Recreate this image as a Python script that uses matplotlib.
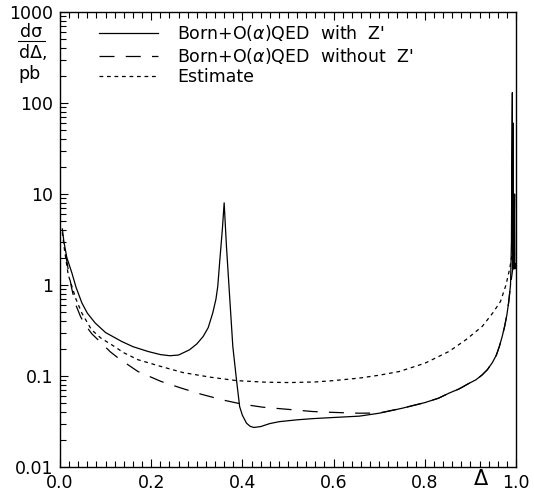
import matplotlib
matplotlib.use("Agg")
import matplotlib.pyplot as plt
from matplotlib.ticker import FixedLocator, NullFormatter, MultipleLocator
from matplotlib.lines import Line2D

# ---- data ----
x_with = [0.009, 0.015, 0.026, 0.035, 0.048, 0.060, 0.077, 0.100, 0.135, 0.160,
          0.193, 0.220, 0.241, 0.260, 0.284, 0.300, 0.314, 0.325, 0.335, 0.342,
          0.346, 0.350, 0.356, 0.360, 0.365, 0.372, 0.379, 0.387, 0.394, 0.400,
          0.409, 0.417, 0.425, 0.440, 0.460, 0.481, 0.520, 0.554, 0.600, 0.656,
          0.700, 0.751, 0.800, 0.830, 0.853, 0.875, 0.895, 0.912, 0.925, 0.937,
          0.948, 0.957, 0.964, 0.970, 0.975, 0.980, 0.984, 0.988, 0.990, 0.991,
          0.992, 0.9925, 0.993, 0.994, 0.9945, 0.995, 0.997, 0.9975, 0.998, 0.999]
y_with = [2.91, 2.0, 1.36, 0.95, 0.635, 0.49, 0.383, 0.30, 0.240, 0.21,
          0.186, 0.172, 0.167, 0.170, 0.194, 0.225, 0.272, 0.34, 0.493, 0.70,
          0.97, 1.75, 4.07, 8.0, 2.67, 0.75, 0.211, 0.091, 0.046, 0.037,
          0.0303, 0.028, 0.0272, 0.0278, 0.030, 0.0315, 0.033, 0.0340, 0.0350, 0.0362,
          0.039, 0.0443, 0.051, 0.057, 0.0648, 0.072, 0.082, 0.0908, 0.102, 0.117,
          0.140, 0.170, 0.215, 0.275, 0.35, 0.47, 0.65, 1.0, 3.0, 30.0,
          130.0, 1.5, 1.8, 60.0, 1.5, 1.6, 10.0, 1.5, 1.6, 1.7]

x_without = [0.005, 0.010, 0.018, 0.025, 0.033, 0.045, 0.055, 0.070, 0.091, 0.110,
             0.128, 0.150, 0.171, 0.200, 0.222, 0.266, 0.310, 0.357, 0.400, 0.445,
             0.500, 0.554, 0.600, 0.656, 0.700, 0.751, 0.800, 0.830, 0.853, 0.875,
             0.895, 0.912, 0.925, 0.937, 0.948, 0.957, 0.964, 0.970, 0.975, 0.980,
             0.984, 0.988, 0.992, 0.995, 0.999]
y_without = [4.2, 2.6, 1.48, 0.95, 0.635, 0.45, 0.366, 0.29, 0.230, 0.185,
             0.157, 0.132, 0.112, 0.097, 0.087, 0.0736, 0.063, 0.0545, 0.049, 0.0454,
             0.043, 0.0407, 0.0398, 0.039, 0.0392, 0.0443, 0.051, 0.057, 0.0648, 0.072,
             0.082, 0.0908, 0.102, 0.117, 0.140, 0.170, 0.215, 0.275, 0.35, 0.47,
             0.65, 1.0, 1.4, 1.8, 2.2]

x_est = [0.005, 0.010, 0.018, 0.026, 0.035, 0.048, 0.069, 0.090, 0.113, 0.140,
         0.171, 0.222, 0.270, 0.330, 0.387, 0.450, 0.503, 0.560, 0.600, 0.656,
         0.700, 0.744, 0.800, 0.853, 0.890, 0.926, 0.950, 0.966, 0.978, 0.986,
         0.992, 0.996]
y_est = [3.8, 2.4, 1.3, 0.97, 0.70, 0.49, 0.323, 0.26, 0.221, 0.18,
         0.151, 0.127, 0.109, 0.097, 0.089, 0.0855, 0.0847, 0.086, 0.089, 0.0948,
         0.102, 0.112, 0.138, 0.186, 0.25, 0.351, 0.50, 0.66, 1.0, 1.5,
         2.25, 2.6]

labels = ["Born+O($\\alpha$)QED  with  Z'",
          "Born+O($\\alpha$)QED  without  Z'",
          "Estimate"]
x_ticks = [0.0, 0.2, 0.4, 0.6, 0.8, 1.0]
x_ticklabels = ["0.0", "0.2", "0.4", "0.6", "0.8", "1.0"]
y_ticks = [0.01, 0.1, 1, 10, 100, 1000]
y_ticklabels = ["0.01", "0.1", "1", "10", "100", "1000"]

# ---- figure ----
plt.rcParams['font.family'] = ['DejaVu Sans']
plt.rcParams['mathtext.fontset'] = 'dejavusans'
W, H = 534, 497
fig = plt.figure(figsize=(W / 100, H / 100), dpi=100)
L, R, T, B = 60, 516, 12, 467
ax = fig.add_axes([L / W, 1 - B / H, (R - L) / W, (B - T) / H])

lw = 0.9
fs = 12.5
ax.plot(x_with, y_with, color='black', lw=lw, ls='-', label=labels[0])
ax.plot(x_without, y_without, color='black', lw=lw, ls=(0, (12, 9)), label=labels[1])
ax.plot(x_est, y_est, color='black', lw=lw, ls=(0, (3, 3)), label=labels[2])

ax.set_yscale('log')
ax.set_xlim(0, 1)
ax.set_ylim(0.01, 1000)

ax.xaxis.set_major_locator(FixedLocator(x_ticks))
ax.set_xticklabels(x_ticklabels)
ax.xaxis.set_minor_locator(MultipleLocator(0.02))
ax.yaxis.set_major_locator(FixedLocator(y_ticks))
ax.set_yticklabels(y_ticklabels)
minors = [m * 10.0 ** e for e in range(-2, 3) for m in range(2, 10)]
ax.yaxis.set_minor_locator(FixedLocator(minors))
ax.yaxis.set_minor_formatter(NullFormatter())

ax.tick_params(which='both', direction='in', top=True, right=False,
               labelsize=fs, width=0.8, pad=5)
ax.tick_params(which='major', length=6)
ax.tick_params(which='minor', length=4)
for s in ax.spines.values():
    s.set_linewidth(1.0)

leg = ax.legend(loc='upper left', bbox_to_anchor=(0.07, 0.99), frameon=False,
                fontsize=fs, handlelength=3.4, handletextpad=1.1,
                labelspacing=0.12, borderaxespad=0.0)

# y-axis label: d sigma / d Delta, pb
fig.text(31 / W, 1 - 32 / H, "d\u03c3", ha='center', va='center', fontsize=fs)
fig.add_artist(Line2D([18 / W, 45 / W], [1 - 41 / H, 1 - 41 / H],
                      color='black', lw=0.8))
fig.text(33 / W, 1 - 53 / H, "d\u0394,", ha='center', va='center', fontsize=fs)
fig.text(30 / W, 1 - 74 / H, "pb", ha='center', va='center', fontsize=fs)

# x-axis label
fig.text(481 / W, 1 - 479 / H, "\u0394", ha='center', va='center', fontsize=15)

fig.savefig("out.png", dpi=100)
